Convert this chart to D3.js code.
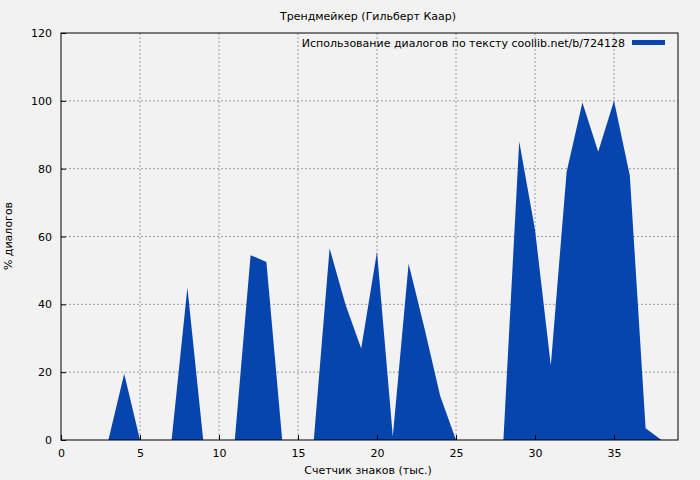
<!DOCTYPE html>
<html><head><meta charset="utf-8">
<script src="https://cdn.jsdelivr.net/npm/d3@7"></script>
<style>body{margin:0;background:#f2f2f2}text{font-family:"DejaVu Sans",sans-serif;font-size:11px;fill:#000}</style>
</head><body><svg id="chart" width="700" height="480"></svg>
<script>
const xs = [0,1,2,3,4,5,6,7,8,9,10,11,12,13,14,15,16,17,18,19,20,21,22,23,24,25,26,27,28,29,30,31,32,33,34,35,36,37,38];
const ys = [0,0,0,0,19.5,0,0,0,45,0,0,0,54.5,52.5,0,0,0,56.5,40,27,55.5,1,52,33,13,0,0,0,0,88,62,22,79,99.5,85,100,78,3.5,0];
const xTicks = [0,5,10,15,20,25,30,35];
const yTicks = [0,20,40,60,80,100,120];

const m = {l:61, r:678, t:33, b:440};
const svg = d3.select("#chart");
const x = d3.scaleLinear().domain([0,39.05]).range([m.l, m.r]);
const y = d3.scaleLinear().domain([0,120]).range([m.b, m.t]);

// grid
svg.append("g").selectAll("line").data(xTicks.slice(1)).join("line")
    .attr("x1", d => x(d)).attr("x2", d => x(d)).attr("y1", m.t).attr("y2", m.b)
    .attr("stroke", "#888").attr("stroke-dasharray", "2,2").attr("stroke-width", 0.8);
svg.append("g").selectAll("line").data(yTicks.slice(1, -1)).join("line")
    .attr("x1", m.l).attr("x2", m.r).attr("y1", d => y(d)).attr("y2", d => y(d))
    .attr("stroke", "#888").attr("stroke-dasharray", "2,2").attr("stroke-width", 0.8);

// area
const data = xs.map((d, i) => [d, ys[i]]);
svg.append("path").datum(data)
    .attr("d", d3.area().x(d => x(d[0])).y0(y(0)).y1(d => y(d[1])))
    .attr("fill", "#0645ad");

// frame and axes
svg.append("rect").attr("x", m.l).attr("y", m.t).attr("width", m.r - m.l).attr("height", m.b - m.t)
    .attr("fill", "none").attr("stroke", "#000");
svg.append("g").attr("transform", `translate(0,${m.b})`)
    .call(d3.axisBottom(x).tickValues(xTicks).tickSize(-5).tickPadding(9))
    .call(g => g.select(".domain").remove());
svg.append("g").attr("transform", `translate(${m.l},0)`)
    .call(d3.axisLeft(y).tickValues(yTicks).tickSize(-5).tickPadding(9))
    .call(g => g.select(".domain").remove());
svg.selectAll(".tick text").style("font-size", "11px").style("font-family", "DejaVu Sans");

svg.append("text").attr("x", 368).attr("y", 20).attr("text-anchor", "middle").text("Трендмейкер (Гильберт Каар)");
svg.append("text").attr("x", 368).attr("y", 474).attr("text-anchor", "middle").text("Счетчик знаков (тыс.)");
svg.append("text").attr("transform", "translate(12,236) rotate(-90)").attr("text-anchor", "middle").text("% диалогов");

// legend
svg.append("text").attr("x", 625).attr("y", 47).attr("text-anchor", "end").text("Использование диалогов по тексту coollib.net/b/724128");
svg.append("rect").attr("x", 632).attr("y", 40).attr("width", 33).attr("height", 5).attr("fill", "#0645ad");
</script></body></html>
